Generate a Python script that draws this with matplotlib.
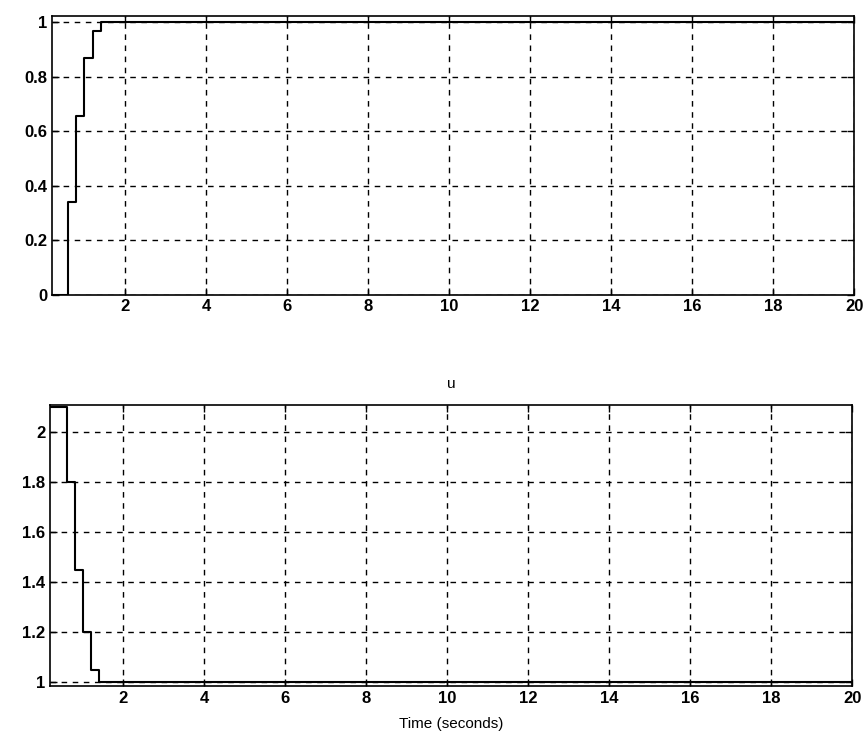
import numpy as np
import matplotlib
matplotlib.use("Agg")
from matplotlib import pyplot as plt

# datos (periodo de muestreo 0.2 s)
t = [0.2, 0.6, 0.8, 1.0, 1.2, 1.4, 20.0]
y = [0.0, 0.34, 0.655, 0.87, 0.97, 1.0, 1.0]
u = [2.1, 1.8, 1.45, 1.2, 1.05, 1.0, 1.0]

xticks = [2, 4, 6, 8, 10, 12, 14, 16, 18, 20]
yticks_y = [0, 0.2, 0.4, 0.6, 0.8, 1]
yticks_u = [1, 1.2, 1.4, 1.6, 1.8, 2]

plt.rcParams['font.family'] = ['Liberation Sans', 'DejaVu Sans']
plt.rcParams['font.size'] = 12
plt.rcParams['font.weight'] = 'bold'

fig = plt.figure(figsize=(8.68, 7.44), dpi=100)
ax1 = fig.add_axes([0.060, 0.604, 0.924, 0.374])
ax2 = fig.add_axes([0.058, 0.078, 0.924, 0.378])

def estilo(ax, yt):
    ax.set_xlim(0.2, 20)
    ax.set_xticks(xticks)
    ax.set_xticklabels([str(v) for v in xticks])
    ax.set_yticks(yt)
    ax.set_yticklabels([('%g' % v) for v in yt])
    ax.grid(True, color='black', linestyle=(0, (4, 4)), linewidth=1)
    ax.tick_params(direction='in', top=True, right=True, length=5, width=1)
    for s in ax.spines.values():
        s.set_linewidth(1.2)

# salida y
ax1.step(t, y, where='post', color='black', linewidth=1.5)
estilo(ax1, yticks_y)
ax1.set_ylim(0, 1.022)

# senal de control u
ax2.step(t, u, where='post', color='black', linewidth=1.5)
estilo(ax2, yticks_u)
ax2.set_ylim(0.985, 2.11)
ax2.set_title('u', fontsize=11, pad=12)
ax2.set_xlabel('Time (seconds)', fontsize=11, fontweight='normal', labelpad=8)

fig.savefig('out.png', dpi=100)
